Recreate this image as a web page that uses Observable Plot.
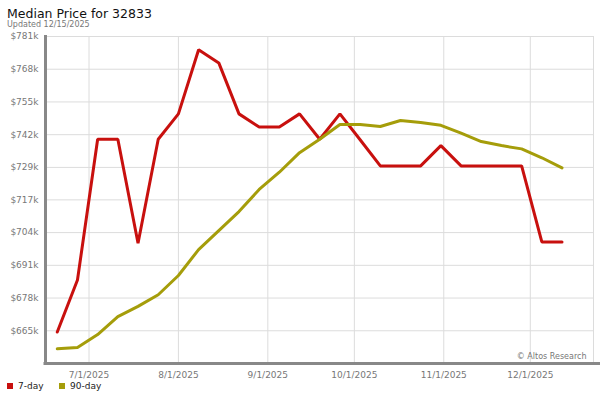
<!DOCTYPE html>
<html><head><meta charset="utf-8">
<script src="https://cdn.jsdelivr.net/npm/d3@7"></script>
<script src="https://cdn.jsdelivr.net/npm/@observablehq/plot@0.6"></script>
<style>
body{margin:0;width:600px;height:400px;position:relative;background:#fff;font-family:"DejaVu Sans",sans-serif;overflow:hidden}
.t{position:absolute;white-space:nowrap;line-height:1}
#title{left:7px;top:7.7px;font-size:12.5px;color:#111}
#sub{left:7px;top:20.5px;font-size:8px;color:#777}
#chart{position:absolute;left:0;top:30px}
.sw{position:absolute;width:6px;height:6px}
.lg{font-size:9px;color:#222;top:382.4px}
</style></head>
<body>
<div class="t" id="title">Median Price for 32833</div>
<div class="t" id="sub">Updated 12/15/2025</div>
<div id="chart"></div>
<div class="sw" style="left:7px;top:383px;background:#c8100e"></div>
<div class="t lg" style="left:18px">7-day</div>
<div class="sw" style="left:59px;top:383px;background:#a59d0a"></div>
<div class="t lg" style="left:70px">90-day</div>
<script>
const dates = ["2025-06-20","2025-06-27","2025-07-04","2025-07-11","2025-07-18","2025-07-25",
  "2025-08-01","2025-08-08","2025-08-15","2025-08-22","2025-08-29","2025-09-05","2025-09-12",
  "2025-09-19","2025-09-26","2025-10-03","2025-10-10","2025-10-17","2025-10-24","2025-10-31",
  "2025-11-07","2025-11-14","2025-11-21","2025-11-28","2025-12-05","2025-12-12"];
const sevenDay = [664.5, 685, 740.5, 740.5, 699.5, 740.5, 750.5, 775.8, 770.6, 750.5, 745.3, 745.3, 750.5,
  740.5, 750.5, 740.3, 730, 730, 730, 738, 730, 730, 730, 730, 700, 700];
const ninetyDay = [657.9, 658.4, 663.5, 670.6, 674.6, 679.2, 686.8, 697, 704.5, 712, 720.7, 727.5, 735.2,
  740.5, 746.3, 746.3, 745.5, 747.9, 747.1, 746, 742.9, 739.6, 738, 736.7, 733.2, 729.2];
const yTicks = [665.0, 677.9, 690.8, 703.7, 716.6, 729.4, 742.3, 755.2, 768.1, 781.0];
const yLabels = ["$665k","$678k","$691k","$704k","$717k","$729k","$742k","$755k","$768k","$781k"];
const xTicks = ["2025-07-01","2025-08-01","2025-09-01","2025-10-01","2025-11-01","2025-12-01"];
const xLabels = ["7/1/2025","8/1/2025","9/1/2025","10/1/2025","11/1/2025","12/1/2025"];
const yDomain = [652.1, 781.0];
const xDomain = ["2025-06-15T22:00:00Z", "2025-12-22T22:00:00Z"];
const credit = ["\u00A9 Altos Research"];

const d7 = dates.map((d, i) => ({date: new Date(d), value: sevenDay[i]}));
const d90 = dates.map((d, i) => ({date: new Date(d), value: ninetyDay[i]}));
const xt = xTicks.map(d => new Date(d));
const xMap = new Map(xt.map((d, i) => [d.getTime(), xLabels[i]]));
const yMap = new Map(yTicks.map((d, i) => [d, yLabels[i]]));
const xd = xDomain.map(d => new Date(d));

const chart = Plot.plot({
  width: 600, height: 351,
  marginTop: 6, marginBottom: 18, marginLeft: 45, marginRight: 7,
  x: {type: "utc", domain: xd},
  y: {domain: yDomain},
  style: {fontFamily: "DejaVu Sans", fontSize: "9px", color: "#777", background: "#fff"},
  marks: [
    Plot.frame({stroke: "#dcdcdc"}),
    Plot.ruleY(yTicks, {stroke: "#dcdcdc"}),
    Plot.ruleX(xt, {stroke: "#dcdcdc"}),
    Plot.axisY({ticks: yTicks, tickFormat: d => yMap.get(d), tickSize: 0, tickPadding: 7, label: null}),
    Plot.axisX({ticks: xt, tickFormat: d => xMap.get(d.getTime()), tickSize: 0, tickPadding: 8, label: null}),
    Plot.line(d7, {x: "date", y: "value", stroke: "#c8100e", strokeWidth: 3, strokeLinejoin: "miter"}),
    Plot.line(d90, {x: "date", y: "value", stroke: "#a59d0a", strokeWidth: 3, strokeLinejoin: "miter"}),
    Plot.ruleX([xd[0]], {stroke: "#888", strokeWidth: 3, insetBottom: -2, insetTop: -1}),
    Plot.ruleY([yDomain[0]], {stroke: "#888", strokeWidth: 3, insetRight: -7, insetLeft: -1.5}),
    Plot.text(credit, {text: d => d, frameAnchor: "bottom-right", dx: -7, dy: -5, fontSize: 8, fill: "#777"})
  ]
});
document.getElementById("chart").appendChild(chart);
</script>
</body></html>
